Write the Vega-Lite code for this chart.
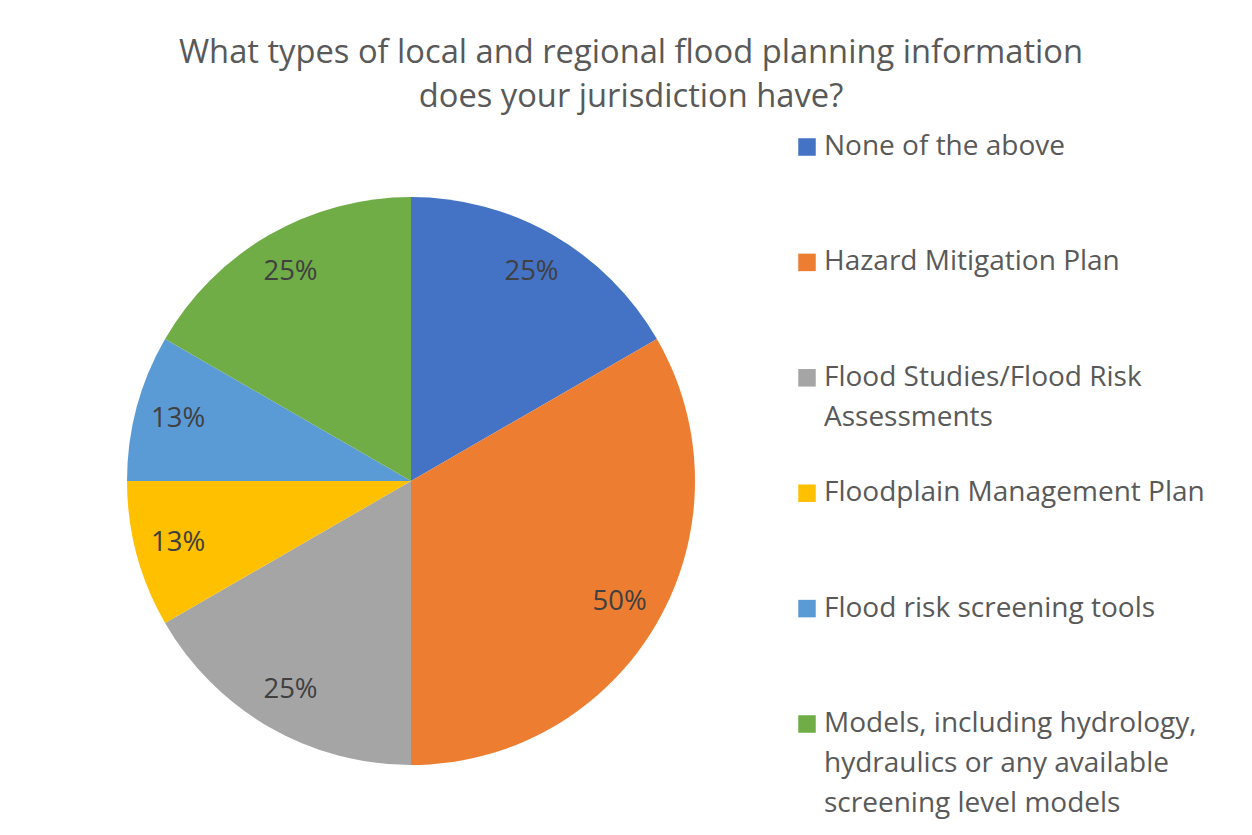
{
  "$schema": "https://vega.github.io/schema/vega-lite/v6.json",
  "width": 568,
  "height": 568,
  "autosize": "none",
  "padding": {"left": 127, "top": 197, "right": 557, "bottom": 70},
  "background": "white",
  "title": {
    "text": ["What types of local and regional flood planning information", "does your jurisdiction have?"],
    "anchor": "middle",
    "frame": "group",
    "dx": 220,
    "offset": 19,
    "font": "Open Sans",
    "fontSize": 32.7,
    "fontWeight": "normal",
    "color": "#595959",
    "lineHeight": 44
  },
  "data": {
    "values": [
      {"category": "None of the above", "pct": 25, "label": "25%", "order": 1},
      {"category": "Hazard Mitigation Plan", "pct": 50, "label": "50%", "order": 2},
      {"category": "Flood Studies/Flood Risk Assessments", "pct": 25, "label": "25%", "order": 3},
      {"category": "Floodplain Management Plan", "pct": 12.5, "label": "13%", "order": 4},
      {"category": "Flood risk screening tools", "pct": 12.5, "label": "13%", "order": 5},
      {"category": "Models, including hydrology, hydraulics or any available screening level models", "pct": 25, "label": "25%", "order": 6}
    ]
  },
  "encoding": {
    "theta": {"field": "pct", "type": "quantitative", "stack": true},
    "order": {"field": "order", "type": "quantitative"}
  },
  "layer": [
    {
      "mark": {"type": "arc"},
      "encoding": {
        "color": {
          "field": "category",
          "type": "nominal",
          "scale": {
            "domain": ["None of the above", "Hazard Mitigation Plan", "Flood Studies/Flood Risk Assessments", "Floodplain Management Plan", "Flood risk screening tools", "Models, including hydrology, hydraulics or any available screening level models"],
            "range": ["#4472C4", "#ED7D31", "#A5A5A5", "#FFC000", "#5B9BD5", "#70AD47"]
          },
          "legend": {
            "orient": "none",
            "legendX": 666,
            "legendY": -64,
            "title": null,
            "padding": 0,
            "symbolType": "square",
            "symbolSize": 306,
            "symbolStrokeWidth": 0,
            "labelFont": "Open Sans",
            "labelFontSize": 28,
            "labelColor": "#595959",
            "labelOffset": 3,
            "labelLimit": 600,
            "gridAlign": "all",
            "rowPadding": 7.4,
            "labelExpr": "datum.label == 'Flood Studies/Flood Risk Assessments' ? ['Flood Studies/Flood Risk', 'Assessments'] : datum.label == 'Models, including hydrology, hydraulics or any available screening level models' ? ['Models, including hydrology,', 'hydraulics or any available', 'screening level models'] : datum.label",
            "encode": {"labels": {"update": {"lineHeight": {"value": 40}}}}
          }
        }
      }
    },
    {
      "mark": {"type": "text", "radius": 241, "font": "Open Sans", "fontSize": 27.5, "fill": "#404040"},
      "encoding": {"text": {"field": "label", "type": "nominal"}}
    }
  ],
  "config": {"view": {"stroke": null}}
}
